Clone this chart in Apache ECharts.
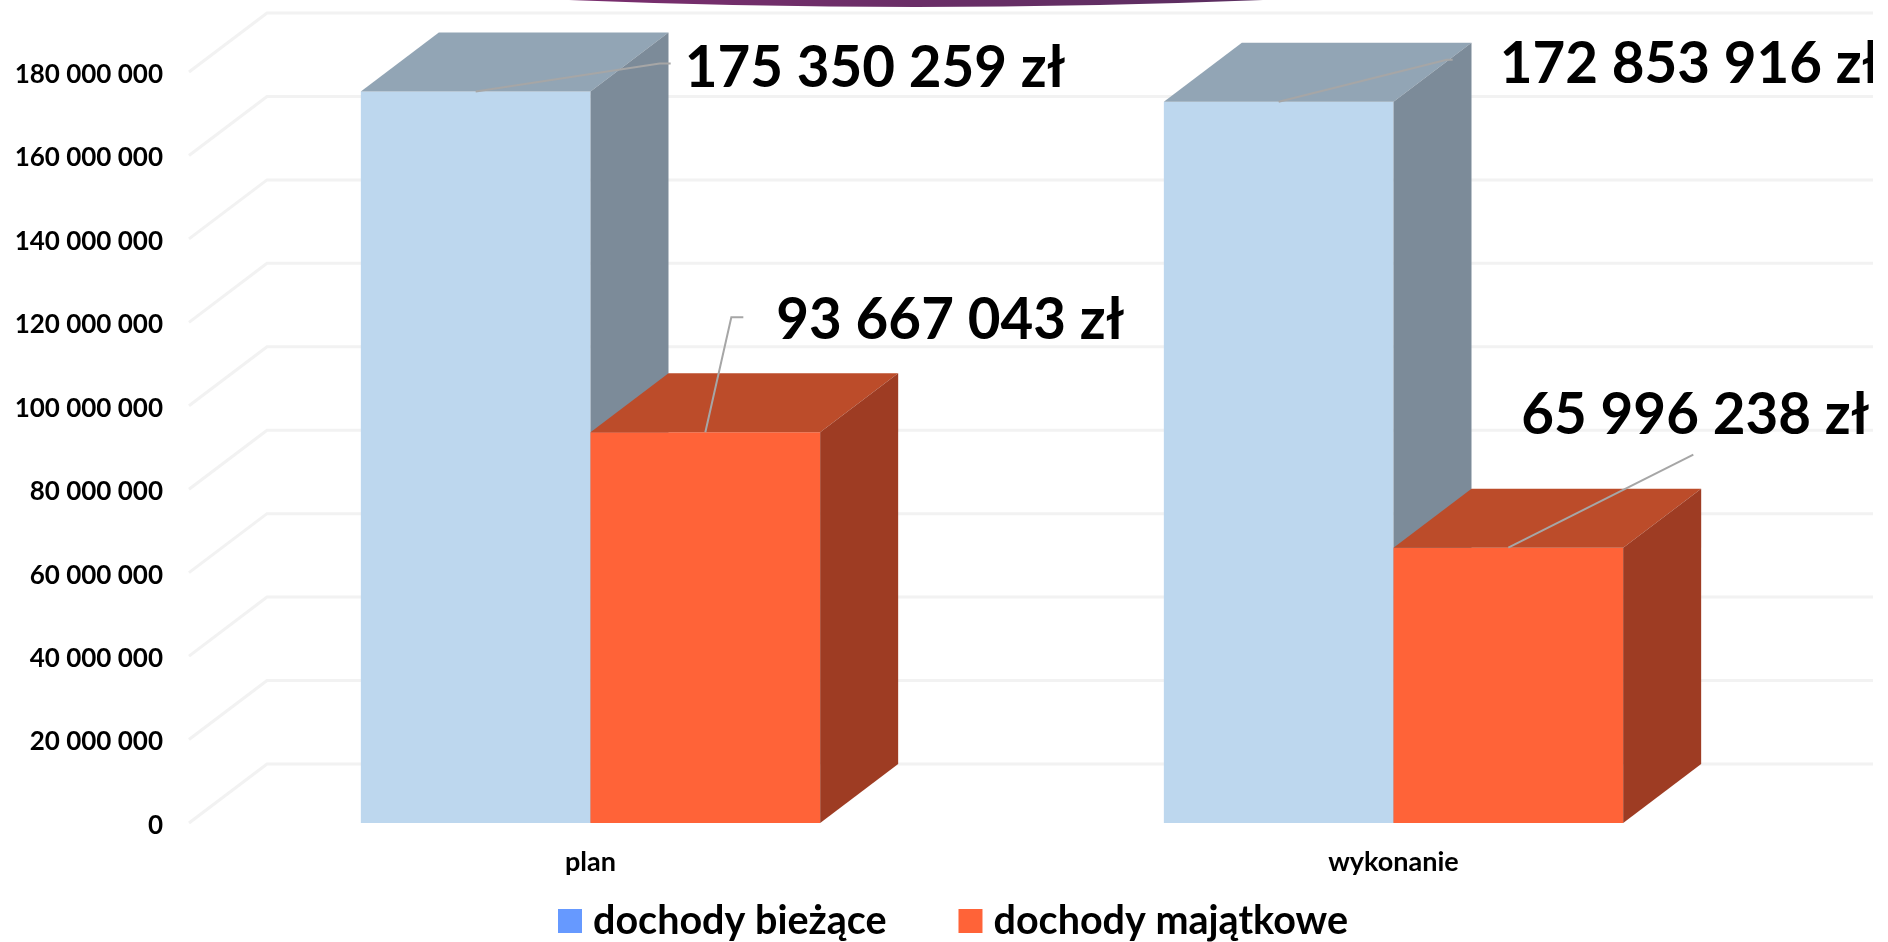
<!DOCTYPE html>
<html>
<head>
<meta charset="utf-8">
<title>dochody</title>
<style>
  html, body { margin: 0; padding: 0; background: #fff; }
  #main { width: 1888px; height: 942px; }
</style>
<script src="https://cdn.jsdelivr.net/npm/echarts@6/dist/echarts.min.js"></script>
</head>
<body>
<div id="main"></div>
<script>
var categories = ['plan', 'wykonanie'];
var biezace = [175350259, 172853916];
var majatkowe = [93667043, 65996238];
var ticks = [0, 20000000, 40000000, 60000000, 80000000, 100000000, 120000000, 140000000, 160000000, 180000000];

var FONT = 'Lato';
var DEPTH_X = 78, DEPTH_Y = 59;
var BAR_RATIO = 0.286; // share of the category band per bar

// colours: front, top, side
var blueFace = ['#bdd7ee', '#92a5b5', '#7c8b99'];
var orangeFace = ['#ff6338', '#bc4c2a', '#9e3c23'];

// leader and label, relative to the middle of the bar's front top edge
var blueLeaders = [
  { line: [[0, 0], [184, -28], [195, -28]], text: [209, -23] },
  { line: [[0, 0], [168, -42], [174, -42]], text: [221, -37] }
];
var orangeLeaders = [
  { line: [[0, 0], [26, -115], [38, -115]], text: [71, -111] },
  { line: [[0, 0], [185, -93]], text: [13, -132] }
];

function money(v) {
  return String(v).replace(/\B(?=(\d{3})+(?!\d))/g, ' ');
}

function boxRenderer(faces, leaders, side) {
  return function (params, api) {
    var i = api.value(0), val = api.value(1);
    var top = api.coord([i, val]);
    var bottom = api.coord([i, 0]);
    var w = api.size([1, 0])[0] * BAR_RATIO;
    var x0 = top[0] + side * w, x1 = x0 + w;
    var yt = top[1], yb = bottom[1];
    var mid = x0 + w / 2;
    var kids = [
      { type: 'polygon', shape: { points: [[x0, yb], [x1, yb], [x1, yt], [x0, yt]] }, style: { fill: faces[0] } },
      { type: 'polygon', shape: { points: [[x0, yt], [x1, yt], [x1 + DEPTH_X, yt - DEPTH_Y], [x0 + DEPTH_X, yt - DEPTH_Y]] }, style: { fill: faces[1] } },
      { type: 'polygon', shape: { points: [[x1, yb], [x1 + DEPTH_X, yb - DEPTH_Y], [x1 + DEPTH_X, yt - DEPTH_Y], [x1, yt]] }, style: { fill: faces[2] } }
    ];
    var lead = leaders[params.dataIndex];
    kids.push({
      type: 'polyline',
      shape: { points: lead.line.map(function (p) { return [mid + p[0], yt + p[1]]; }) },
      style: { stroke: '#a6a6a6', lineWidth: 2, fill: null }
    });
    kids.push({
      type: 'text',
      style: {
        x: mid + lead.text[0], y: yt + lead.text[1],
        text: money(val) + ' zł',
        fill: '#000', font: 'bold 56.5px ' + FONT,
        textAlign: 'left', textVerticalAlign: 'middle'
      }
    });
    return { type: 'group', children: kids };
  };
}

function wallRenderer(params, api) {
  var p = api.coord([0, api.value(0)]);
  var cs = params.coordSys;
  return {
    type: 'polyline',
    shape: { points: [[cs.x, p[1]], [cs.x + DEPTH_X, p[1] - DEPTH_Y], [cs.x + cs.width + DEPTH_X, p[1] - DEPTH_Y]] },
    style: { stroke: '#f2f2f2', lineWidth: 3, fill: null }
  };
}

var myChart = echarts.init(document.getElementById('main'));
var option = {
  animation: false,
  backgroundColor: '#fff',
  grid: { left: 189, right: 93, top: 72, bottom: 119 },
  xAxis: {
    type: 'category',
    data: categories,
    axisLine: { show: false },
    axisTick: { show: false },
    axisLabel: { color: '#000', fontFamily: FONT, fontWeight: 'bold', fontSize: 27, margin: 26 }
  },
  yAxis: {
    type: 'value',
    min: 0,
    max: 180000000,
    interval: 20000000,
    axisLine: { show: false },
    axisTick: { show: false },
    splitLine: { show: false },
    axisLabel: {
      color: '#000', fontFamily: FONT, fontWeight: 'bold', fontSize: 26, margin: 26,
      formatter: function (v) { return '{t|' + money(v) + '}'; },
      rich: { t: { color: '#000', fontFamily: FONT, fontWeight: 'bold', fontSize: 26, padding: [5, 0, 0, 0] } }
    }
  },
  legend: {
    top: 901,
    left: 558,
    padding: 0,
    icon: 'rect',
    itemWidth: 24,
    itemHeight: 24,
    itemGap: 72,
    textStyle: { color: '#000', fontFamily: FONT, fontWeight: 'bold', fontSize: 39.5, lineHeight: 40, padding: [0, 0, 0, 6] },
    data: [
      { name: 'dochody bieżące', itemStyle: { color: '#6699ff' } },
      { name: 'dochody majątkowe', itemStyle: { color: '#ff6338' } }
    ]
  },
  graphic: [
    {
      type: 'bezierCurve',
      shape: { x1: 569, y1: 0, x2: 1263, y2: 0, cpx1: 916, cpy1: 14 },
      style: {
        stroke: 'none',
        fill: new echarts.graphic.LinearGradient(0, 0, 1, 0, [
          { offset: 0, color: '#7a2e6e' },
          { offset: 1, color: '#5a2e60' }
        ])
      }
    },
    // picture is cut off on the right
    { type: 'rect', z: 100, shape: { x: 1873, y: 0, width: 15, height: 942 }, style: { fill: '#fff' } }
  ],
  series: [
    {
      name: 'wall',
      type: 'custom',
      clip: false,
      z: 1,
      silent: true,
      data: ticks.map(function (t) { return [t]; }),
      encode: { y: 0 },
      renderItem: wallRenderer
    },
    {
      name: 'dochody bieżące',
      type: 'custom',
      clip: false,
      z: 2,
      itemStyle: { color: '#6699ff' },
      data: biezace.map(function (v, i) { return [i, v]; }),
      encode: { x: 0, y: 1 },
      renderItem: boxRenderer(blueFace, blueLeaders, -1)
    },
    {
      name: 'dochody majątkowe',
      type: 'custom',
      clip: false,
      z: 3,
      itemStyle: { color: '#ff6338' },
      data: majatkowe.map(function (v, i) { return [i, v]; }),
      encode: { x: 0, y: 1 },
      renderItem: boxRenderer(orangeFace, orangeLeaders, 0)
    }
  ]
};
myChart.setOption(option);
</script>
</body>
</html>
